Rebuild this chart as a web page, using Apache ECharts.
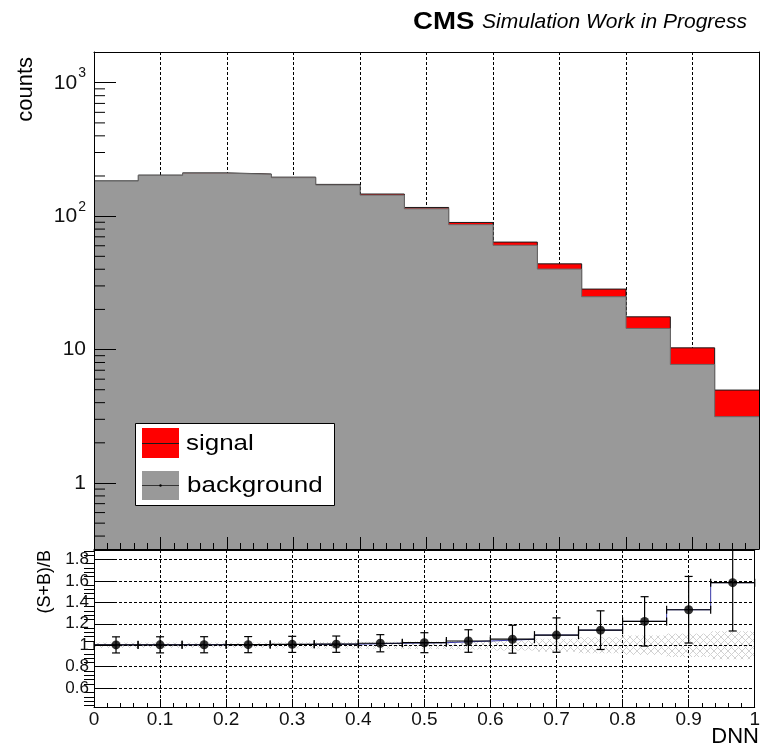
<!DOCTYPE html>
<html>
<head>
<meta charset="utf-8">
<script src="https://cdn.jsdelivr.net/npm/echarts@6/dist/echarts.min.js"></script>
<style>
  html, body { margin: 0; padding: 0; background: #fff; }
  #chart { width: 763px; height: 749px; }
</style>
</head>
<body>
<div id="chart"></div>
<script>
// DNN output binning: 15 equal-width bins on [0, 1]
const nBins = 15;
const binEdges = Array.from({ length: nBins + 1 }, (_, i) => i / nBins);

// expected yields per DNN bin
const background = [183.2, 202.2, 210.0, 205.8, 194.4, 171.3, 143.8, 113.5, 86.3, 60.5, 40.1, 24.9, 14.4, 7.74, 3.14];
const signal     = [0.6, 0.8, 1.0, 1.2, 1.6, 1.7, 2.7, 2.7, 3.4, 3.4, 3.8, 3.5, 3.2, 2.56, 1.83];

// uncertainty on (S+B)/B, and relative statistical uncertainty of the background
const ratioErr  = [0.075, 0.075, 0.075, 0.075, 0.075, 0.076, 0.08, 0.093, 0.105, 0.13, 0.16, 0.18, 0.23, 0.31, 0.45];
const bkgRelErr = [0.025, 0.025, 0.025, 0.025, 0.027, 0.03, 0.033, 0.036, 0.04, 0.05, 0.06, 0.075, 0.09, 0.11, 0.13];

// axis ranges and labelled ticks
const countsRange = [0.32, 1700];
const ratioRange = [0.425, 1.887];
const ratioMajorTicks = [0.6, 0.8, 1.0, 1.2, 1.4, 1.6, 1.8];

const FONT = "'Liberation Sans', Arial, Helvetica, sans-serif";

// derived quantities
const total = background.map((b, i) => b + signal[i]);
const ratio = background.map((b, i) => (b + signal[i]) / b);

// minor ticks: 2..9 per decade on the log axis, every 0.04 on the ratio axis
const logMinorTicks = [];
for (let d = -1; d <= 3; d++) {
  for (let m = 2; m <= 9; m++) {
    const v = m * Math.pow(10, d);
    if (v > countsRange[0] && v < countsRange[1]) logMinorTicks.push(+v.toPrecision(3));
  }
}
const ratioMinorTicks = [];
for (let k = 11; k <= 47; k++) {
  if (k % 5 !== 0) ratioMinorTicks.push(+(k * 0.04).toFixed(2));
}

// step-outline points: value held over each bin
function stepPoints(vals) {
  const pts = vals.map((v, i) => [binEdges[i], v]);
  pts.push([binEdges[nBins], vals[nBins - 1]]);
  return pts;
}

function hatchPattern() {
  const c = document.createElement('canvas');
  c.width = 7; c.height = 7;
  const g = c.getContext('2d');
  g.strokeStyle = '#d2d2d2';
  g.lineWidth = 1;
  g.beginPath();
  g.moveTo(0, 0); g.lineTo(7, 7);
  g.moveTo(7, 0); g.lineTo(0, 7);
  g.stroke();
  return c;
}
const hatch = { image: hatchPattern(), repeat: 'repeat' };

function logLabel(v) {
  const e = Math.log10(v);
  const r = Math.round(e);
  if (Math.abs(e - r) > 1e-6) return '';
  if (r === 0) return '1';
  if (r === 1) return '10';
  return '{b|10}{s|' + r + '}';
}

const dash = [3, 2];
const chart = echarts.init(document.getElementById('chart'), null, { renderer: 'canvas' });

const binRows = background.map((b, i) => [binEdges[i], binEdges[i + 1], ratio[i], ratioErr[i], bkgRelErr[i]]);

const option = {
  animation: false,
  backgroundColor: '#ffffff',
  grid: [
    { left: 94, top: 52, width: 665, height: 497 },
    { left: 94, top: 550, width: 665, height: 157 }
  ],
  xAxis: [
    // 0: upper panel, grid lines only
    { type: 'value', gridIndex: 0, min: 0, max: 1, interval: 0.1, z: 0,
      axisLine: { show: false }, axisTick: { show: false }, axisLabel: { show: false },
      splitLine: { show: true, lineStyle: { color: '#000', width: 1, type: dash } } },
    // 1: upper panel, bottom ticks
    { type: 'value', gridIndex: 0, min: 0, max: 1, interval: 0.1, z: 10, position: 'bottom',
      axisLine: { show: true, onZero: false, lineStyle: { color: '#000', width: 1 } },
      axisTick: { show: true, inside: true, length: 12, lineStyle: { color: '#000' } },
      minorTick: { show: true, splitNumber: 5, length: 6, lineStyle: { color: '#000' } },
      axisLabel: { show: false }, splitLine: { show: false } },
    // 2: upper panel, top frame
    { type: 'value', gridIndex: 0, min: 0, max: 1, position: 'top', z: 10,
      axisLine: { show: true, onZero: false, lineStyle: { color: '#000', width: 1 } },
      axisTick: { show: false }, axisLabel: { show: false }, splitLine: { show: false } },
    // 3: ratio panel, grid lines only
    { type: 'value', gridIndex: 1, min: 0, max: 1, interval: 0.1, z: 0,
      axisLine: { show: false }, axisTick: { show: false }, axisLabel: { show: false },
      splitLine: { show: true, lineStyle: { color: '#000', width: 1, type: dash } } },
    // 4: ratio panel, ticks and labels
    { type: 'value', gridIndex: 1, min: 0, max: 1, interval: 0.1, z: 10, position: 'bottom',
      axisLine: { show: true, onZero: false, lineStyle: { color: '#000', width: 1 } },
      axisTick: { show: true, inside: true, length: 8, lineStyle: { color: '#000' } },
      minorTick: { show: true, splitNumber: 5, length: 4, lineStyle: { color: '#000' } },
      axisLabel: { show: true, margin: 3, color: '#111', fontFamily: FONT, fontSize: 19,
        formatter: v => (v === 0 ? '0' : v === 1 ? '1' : v.toFixed(1)) },
      splitLine: { show: false } },
    // 5: ratio panel, top frame
    { type: 'value', gridIndex: 1, min: 0, max: 1, position: 'top', z: 10,
      axisLine: { show: true, onZero: false, lineStyle: { color: '#000', width: 1 } },
      axisTick: { show: false }, axisLabel: { show: false }, splitLine: { show: false } }
  ],
  yAxis: [
    // 0: counts, log scale
    { type: 'log', logBase: 10, gridIndex: 0, min: countsRange[0], max: countsRange[1], splitNumber: 4, z: 10,
      axisLine: { show: true, onZero: false, lineStyle: { color: '#000', width: 1 } },
      axisTick: { show: true, inside: true, length: 22, lineStyle: { color: '#000' } },
      axisLabel: { show: true, margin: 8, color: '#111', fontFamily: FONT, fontSize: 21,
        formatter: logLabel,
        rich: {
          b: { fontFamily: FONT, fontSize: 21, lineHeight: 21, color: '#111', verticalAlign: 'bottom' },
          s: { fontFamily: FONT, fontSize: 14, lineHeight: 14, color: '#111', verticalAlign: 'bottom', padding: [0, 0, 13, 1] }
        } },
      splitLine: { show: false } },
    // 1: upper panel right frame
    { type: 'log', logBase: 10, gridIndex: 0, min: countsRange[0], max: countsRange[1], position: 'right', z: 10,
      axisLine: { show: true, onZero: false, lineStyle: { color: '#000', width: 1 } },
      axisTick: { show: false }, axisLabel: { show: false }, splitLine: { show: false } },
    // 2: ratio, major ticks and labels
    { type: 'value', gridIndex: 1, min: ratioRange[0], max: ratioRange[1], z: 10,
      axisLine: { show: true, onZero: false, lineStyle: { color: '#000', width: 1 } },
      axisTick: { show: true, inside: true, length: 22, customValues: ratioMajorTicks, lineStyle: { color: '#000' } },
      axisLabel: { show: true, margin: 5, color: '#111', fontFamily: FONT, fontSize: 17,
        customValues: ratioMajorTicks,
        formatter: v => (Math.abs(v - 1) < 1e-9 ? '1' : v.toFixed(1)) },
      splitLine: { show: false } },
    // 3: ratio, minor ticks
    { type: 'value', gridIndex: 1, min: ratioRange[0], max: ratioRange[1], z: 10,
      axisLine: { show: false },
      axisTick: { show: true, inside: true, length: 10, customValues: ratioMinorTicks, lineStyle: { color: '#000' } },
      axisLabel: { show: false }, splitLine: { show: false } },
    // 4: ratio right frame
    { type: 'value', gridIndex: 1, min: ratioRange[0], max: ratioRange[1], position: 'right', z: 10,
      axisLine: { show: true, onZero: false, lineStyle: { color: '#000', width: 1 } },
      axisTick: { show: false }, axisLabel: { show: false }, splitLine: { show: false } }
  ],
  series: [
    // stacked total (signal on top of background)
    { name: 'signal', type: 'line', xAxisIndex: 0, yAxisIndex: 0, step: 'end', z: 2,
      data: stepPoints(total), symbol: 'none',
      lineStyle: { color: '#1a1a1a', width: 1 },
      areaStyle: { color: '#ff0000', origin: 'start', opacity: 1 } },
    { name: 'background', type: 'line', xAxisIndex: 0, yAxisIndex: 0, step: 'end', z: 3,
      data: stepPoints(background), symbol: 'none',
      lineStyle: { color: '#6a6a6a', width: 1 },
      areaStyle: { color: '#999999', origin: 'start', opacity: 1 } },
    // log-axis minor ticks
    { type: 'custom', xAxisIndex: 0, yAxisIndex: 0, z: 11, silent: true,
      data: logMinorTicks.map(v => [0, v]),
      renderItem: (params, api) => {
        const p = api.coord([api.value(0), api.value(1)]);
        return { type: 'line', shape: { x1: p[0], y1: p[1], x2: p[0] + 11, y2: p[1] },
          style: { stroke: '#000', lineWidth: 1 } };
      } },
    // background uncertainty band around 1, with horizontal grid lines
    { type: 'custom', xAxisIndex: 3, yAxisIndex: 2, z: 1, silent: true,
      data: binRows,
      renderItem: (params, api) => {
        const lo = api.value(0), hi = api.value(1), e = api.value(4);
        const a = api.coord([lo, 1 + e]);
        const b = api.coord([hi, 1 - e]);
        return { type: 'rect', shape: { x: a[0], y: a[1], width: b[0] - a[0], height: b[1] - a[1] },
          style: { fill: hatch } };
      },
      markLine: { silent: true, symbol: 'none', label: { show: false },
        lineStyle: { color: '#000', width: 1, type: dash },
        data: ratioMajorTicks.map(v => ({ yAxis: v })) } },
    // ratio histogram outline
    { type: 'line', xAxisIndex: 3, yAxisIndex: 2, step: 'end', z: 4, symbol: 'none', silent: true,
      data: stepPoints(ratio), lineStyle: { color: '#3838a8', width: 1 } },
    // error bars
    { type: 'custom', xAxisIndex: 3, yAxisIndex: 2, z: 6, silent: true,
      data: binRows,
      renderItem: (params, api) => {
        const cs = params.coordSys;
        const lo = api.value(0), hi = api.value(1), r = api.value(2), e = api.value(3);
        const c = (lo + hi) / 2;
        const pl = api.coord([lo, r]), ph = api.coord([hi, r]);
        const pc = api.coord([c, r]);
        let yt = api.coord([c, r + e])[1];
        let yb = api.coord([c, r - e])[1];
        const topClipped = yt < cs.y;
        const botClipped = yb > cs.y + cs.height;
        yt = Math.max(yt, cs.y);
        yb = Math.min(yb, cs.y + cs.height);
        const st = { stroke: '#000', lineWidth: 1.2 };
        const kids = [
          { type: 'line', shape: { x1: pl[0], y1: pl[1], x2: ph[0], y2: ph[1] }, style: st },
          { type: 'line', shape: { x1: pl[0], y1: pl[1] - 4, x2: pl[0], y2: pl[1] + 4 }, style: st },
          { type: 'line', shape: { x1: ph[0], y1: ph[1] - 4, x2: ph[0], y2: ph[1] + 4 }, style: st },
          { type: 'line', shape: { x1: pc[0], y1: yt, x2: pc[0], y2: yb }, style: st }
        ];
        if (!topClipped) kids.push({ type: 'line', shape: { x1: pc[0] - 4, y1: yt, x2: pc[0] + 4, y2: yt }, style: st });
        if (!botClipped) kids.push({ type: 'line', shape: { x1: pc[0] - 4, y1: yb, x2: pc[0] + 4, y2: yb }, style: st });
        return { type: 'group', children: kids };
      } },
    // (S+B)/B markers
    { type: 'scatter', xAxisIndex: 3, yAxisIndex: 2, z: 8, silent: true,
      symbol: 'circle', symbolSize: 9, itemStyle: { color: '#000' },
      data: binRows.map(row => [(row[0] + row[1]) / 2, row[2]]) }
  ],
  graphic: [
    { type: 'text', x: 413, y: 22, scaleX: 1.15, z: 100,
      style: { text: 'CMS', font: 'bold 24px ' + FONT, fill: '#000', align: 'left', verticalAlign: 'middle' } },
    { type: 'text', x: 747, y: 22.5, z: 100,
      style: { text: 'Simulation Work in Progress', font: 'italic 21px ' + FONT, fill: '#000', align: 'right', verticalAlign: 'middle' } },
    { type: 'text', x: 37, y: 57, rotation: Math.PI / 2, z: 100,
      style: { text: 'counts', font: '22px ' + FONT, fill: '#000', align: 'right', verticalAlign: 'bottom' } },
    { type: 'text', x: 54, y: 550, rotation: Math.PI / 2, z: 100,
      style: { text: '(S+B)/B', font: '18px ' + FONT, fill: '#000', align: 'right', verticalAlign: 'bottom' } },
    { type: 'text', x: 759, y: 737, z: 100,
      style: { text: 'DNN', font: '22px ' + FONT, fill: '#000', align: 'right', verticalAlign: 'middle' } },
    // legend box
    { type: 'rect', z: 100, shape: { x: 135.5, y: 423.5, width: 199, height: 82 },
      style: { fill: '#fff', stroke: '#000', lineWidth: 1 } },
    { type: 'rect', z: 101, shape: { x: 142, y: 428, width: 37, height: 30 }, style: { fill: '#ff0000' } },
    { type: 'line', z: 102, shape: { x1: 142, y1: 443.5, x2: 179, y2: 443.5 }, style: { stroke: '#1a1a1a', lineWidth: 1 } },
    { type: 'text', z: 101, x: 186, y: 444, scaleX: 1.18,
      style: { text: 'signal', font: '22px ' + FONT, fill: '#000', align: 'left', verticalAlign: 'middle' } },
    { type: 'rect', z: 101, shape: { x: 142, y: 471, width: 37, height: 29 }, style: { fill: '#999999' } },
    { type: 'line', z: 102, shape: { x1: 142, y1: 485.5, x2: 179, y2: 485.5 }, style: { stroke: '#333', lineWidth: 1 } },
    { type: 'circle', z: 103, shape: { cx: 160.5, cy: 485.5, r: 1.2 }, style: { fill: '#000' } },
    { type: 'text', z: 101, x: 187, y: 486, scaleX: 1.18,
      style: { text: 'background', font: '22px ' + FONT, fill: '#000', align: 'left', verticalAlign: 'middle' } }
  ]
};

chart.setOption(option);
</script>
</body>
</html>
